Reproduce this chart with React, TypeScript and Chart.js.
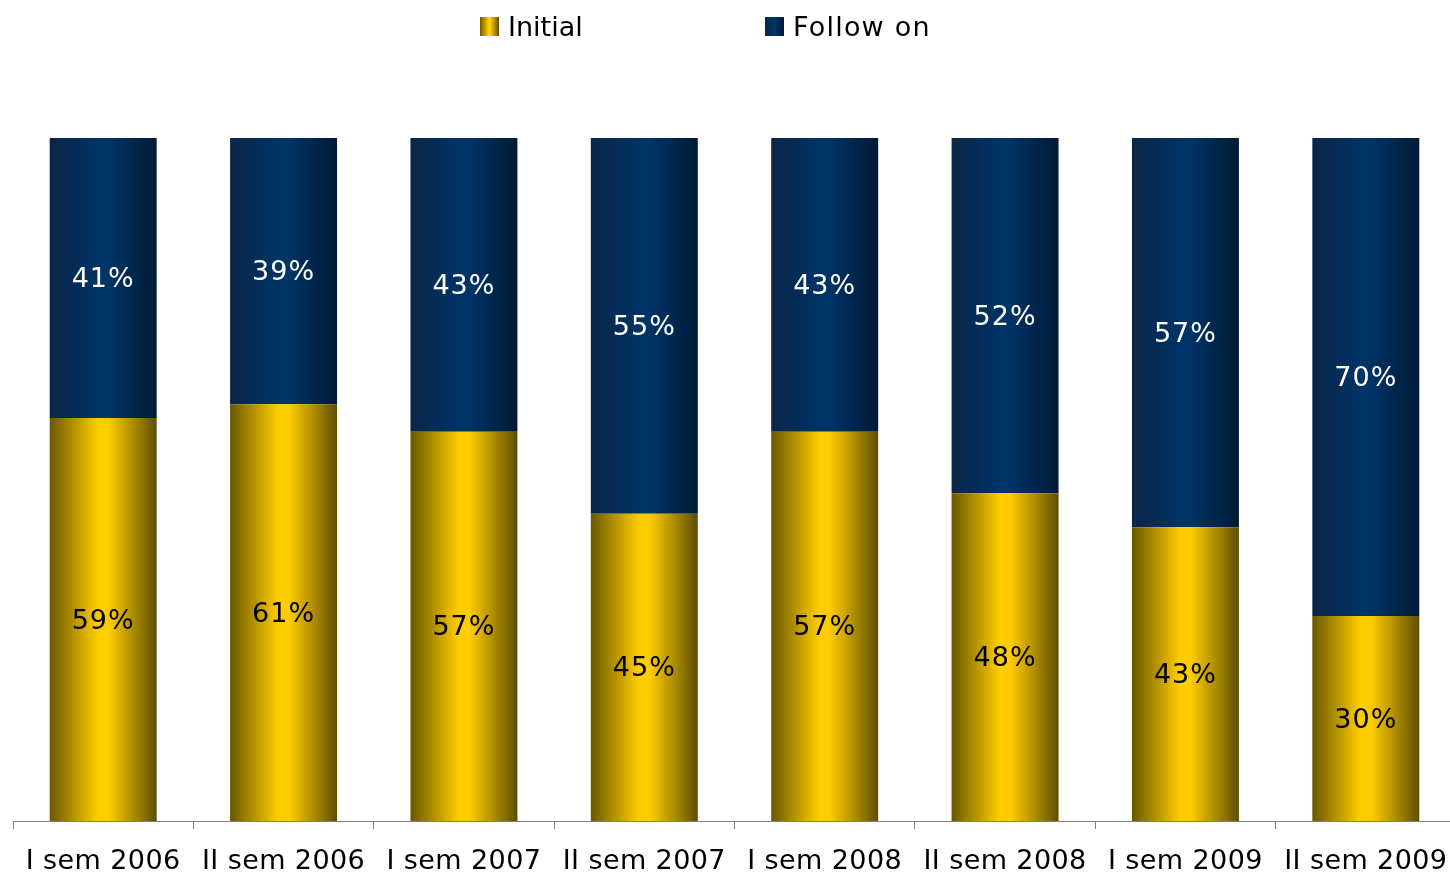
import React, { useEffect, useRef } from "react";
import { Chart, registerables } from "chart.js";

Chart.register(...registerables);

const categories = [
  "I sem 2006",
  "II sem 2006",
  "I sem 2007",
  "II sem 2007",
  "I sem 2008",
  "II sem 2008",
  "I sem 2009",
  "II sem 2009",
];
const initialValues = [59, 61, 57, 45, 57, 48, 43, 30];
const followOnValues = [41, 39, 43, 55, 43, 52, 57, 70];
const seriesNames = ["Initial", "Follow on"];

const FONT = "'DejaVu Sans', Verdana, sans-serif";

const yellowStops: [number, string][] = [
  [0, "#6a5800"],
  [0.45, "#ffcc00"],
  [0.55, "#ffcc00"],
  [1, "#5e4e00"],
];
const blueStops: [number, string][] = [
  [0, "#0b2547"],
  [0.45, "#003366"],
  [0.55, "#003366"],
  [1, "#001a36"],
];

function makeGrad(ctx: CanvasRenderingContext2D, x0: number, x1: number, stops: [number, string][]) {
  const g = ctx.createLinearGradient(x0, 0, x1, 0);
  stops.forEach(([o, c]) => g.addColorStop(o, c));
  return g;
}

const spacingPlugin = {
  id: "letterSpacing",
  beforeDraw(chart: any) {
    try {
      (chart.ctx as any).letterSpacing = "0.4px";
    } catch (e) {}
  },
};

const gradientPlugin = {
  id: "barGradients",
  beforeDatasetsDraw(chart: any) {
    const ctx = chart.ctx;
    chart.data.datasets.forEach((ds: any, di: number) => {
      const meta = chart.getDatasetMeta(di);
      const stops = di === 0 ? yellowStops : blueStops;
      meta.data.forEach((el: any) => {
        const w = el.width;
        const g = makeGrad(ctx, el.x - w / 2, el.x + w / 2, stops);
        el.options = { ...el.options, backgroundColor: g };
      });
    });
  },
};

const labelPlugin = {
  id: "segLabels",
  afterDatasetsDraw(chart: any) {
    const ctx = chart.ctx;
    ctx.save();
    try {
      (ctx as any).letterSpacing = "1px";
    } catch (e) {}
    ctx.font = `27px ${FONT}`;
    ctx.textAlign = "center";
    ctx.textBaseline = "middle";
    chart.data.datasets.forEach((ds: any, di: number) => {
      const meta = chart.getDatasetMeta(di);
      ctx.fillStyle = di === 0 ? "#000000" : "#ffffff";
      meta.data.forEach((el: any, i: number) => {
        const cy = (el.y + el.base) / 2;
        ctx.fillText(`${ds.data[i]}%`, el.x, cy + 2);
      });
    });
    ctx.restore();
  },
};

function LegendBox({ stops }: { stops: [number, string][] }) {
  const bg = `linear-gradient(to right, ${stops.map(([o, c]) => `${c} ${o * 100}%`).join(", ")})`;
  return <div style={{ width: 19, height: 19, background: bg }} />;
}

export default function App() {
  const ref = useRef<HTMLCanvasElement | null>(null);

  useEffect(() => {
    if (!ref.current) return;
    const chart = new Chart(ref.current, {
      type: "bar",
      data: {
        labels: categories,
        datasets: [
          {
            label: seriesNames[0],
            data: initialValues,
            backgroundColor: "#ffcc00",
            categoryPercentage: 1,
            barPercentage: 0.593,
          },
          {
            label: seriesNames[1],
            data: followOnValues,
            backgroundColor: "#003366",
            categoryPercentage: 1,
            barPercentage: 0.593,
          },
        ],
      },
      options: {
        animation: false,
        responsive: false,
        maintainAspectRatio: false,
        layout: { padding: { top: 138, left: 13, right: 14, bottom: 0 } },
        plugins: {
          legend: { display: false },
          tooltip: { enabled: false },
        },
        scales: {
          x: {
            stacked: true,
            grid: {
              offset: true,
              drawOnChartArea: false,
              drawTicks: true,
              tickLength: 8,
              color: "#808080",
            },
            border: { color: "#808080", width: 1 },
            ticks: {
              color: "#000000",
              font: { family: FONT, size: 27 },
              padding: 17,
              maxRotation: 0,
              autoSkip: false,
            },
            afterFit: (scale: any) => {
              scale.height = 53;
            },
          },
          y: {
            stacked: true,
            display: false,
            min: 0,
            max: 100,
          },
        },
      },
      plugins: [spacingPlugin, gradientPlugin, labelPlugin],
    });
    return () => chart.destroy();
  }, []);

  return (
    <div
      style={{
        position: "fixed",
        left: 0,
        top: 0,
        width: 1450,
        height: 874,
        overflow: "hidden",
        background: "#ffffff",
        fontFamily: FONT,
      }}
    >
      <canvas ref={ref} width={1470} height={874} style={{ position: "absolute", left: 0, top: 0, width: 1470, height: 874 }} />
      <div style={{ position: "absolute", left: 480, top: 10, height: 32, display: "flex", alignItems: "center" }}>
        <LegendBox stops={yellowStops} />
        <span style={{ marginLeft: 9, fontSize: 27, color: "#000" }}>{seriesNames[0]}</span>
      </div>
      <div style={{ position: "absolute", left: 765, top: 10, height: 32, display: "flex", alignItems: "center" }}>
        <LegendBox stops={blueStops} />
        <span style={{ marginLeft: 9, fontSize: 27, color: "#000", letterSpacing: 1.2 }}>{seriesNames[1]}</span>
      </div>
    </div>
  );
}
